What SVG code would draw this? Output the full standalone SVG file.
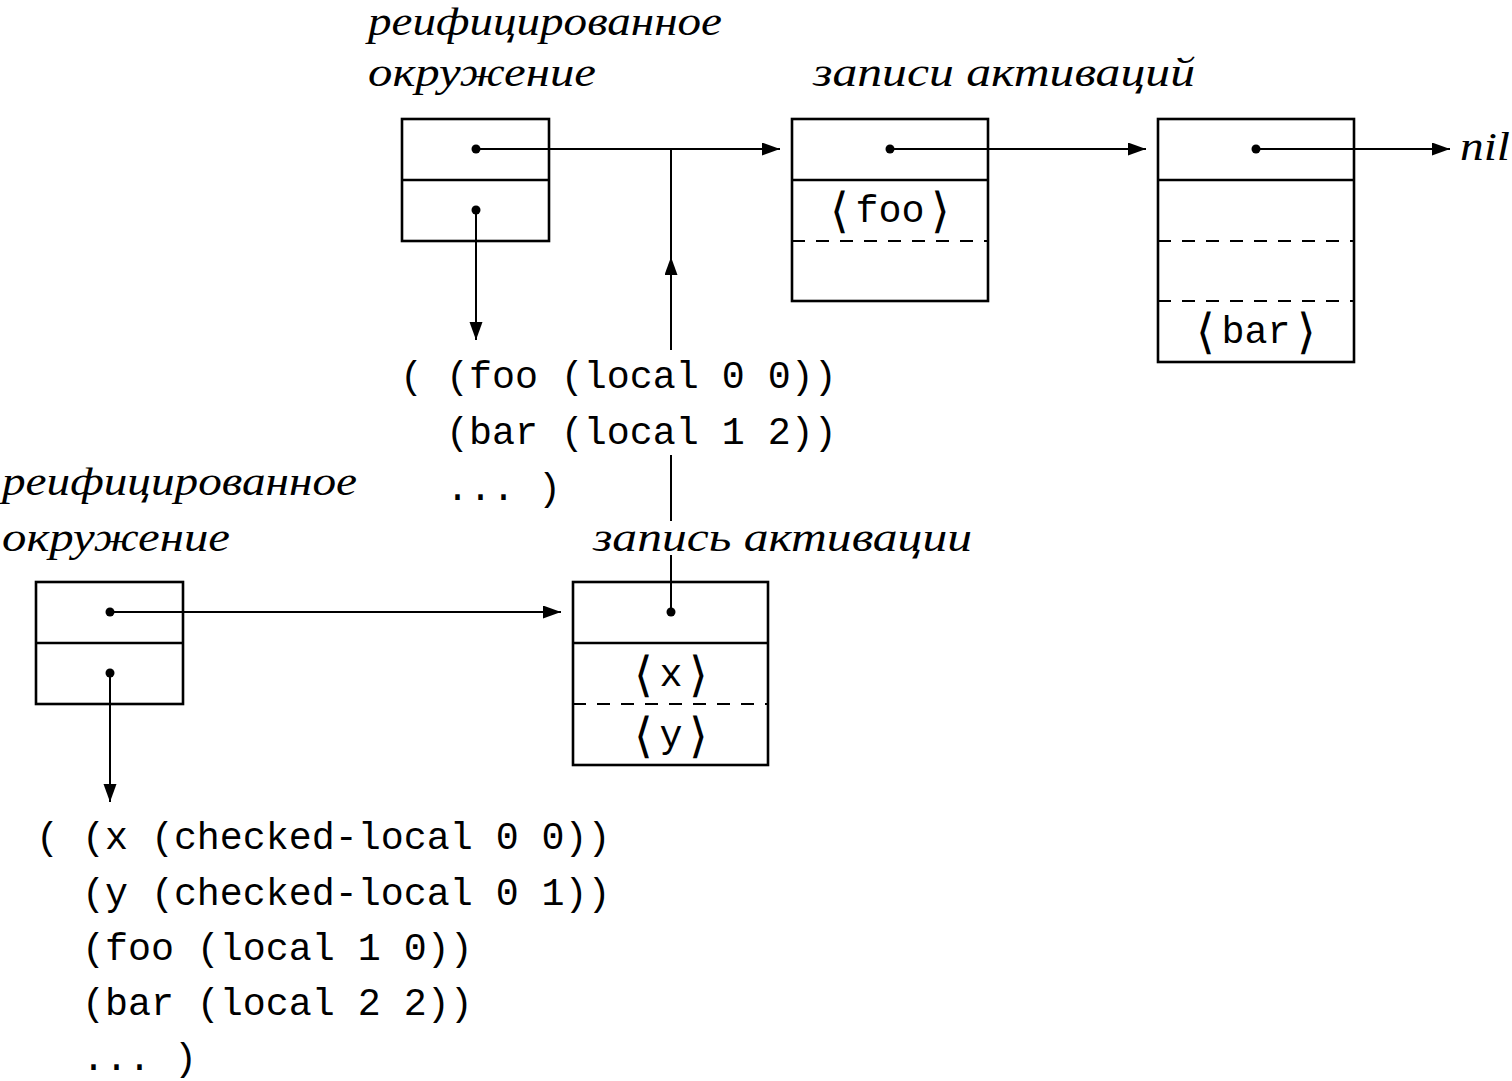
<svg xmlns="http://www.w3.org/2000/svg" width="1512" height="1081" viewBox="0 0 1512 1081">
<defs>
<marker id="ah" markerUnits="userSpaceOnUse" markerWidth="20" markerHeight="14" refX="18" refY="6.5" orient="auto">
<path d="M0,0 L18,6.5 L0,13 z" fill="#000"/>
</marker>
<style>
.box{fill:none;stroke:#000;stroke-width:2.6}
.div{stroke:#000;stroke-width:2.4}
.dash{stroke:#000;stroke-width:2;stroke-dasharray:13 11}
.ln{stroke:#000;stroke-width:2;fill:none}
.arr{stroke:#000;stroke-width:2;fill:none;marker-end:url(#ah)}
.dot{fill:#000}
.it{font-family:"Liberation Serif",serif;font-style:italic;font-size:39px;fill:#000}
.mono{font-family:"Liberation Mono",monospace;font-size:38.3px;fill:#000}
.br{font-family:"DejaVu Sans",sans-serif;font-weight:200;font-size:48px;fill:#000}
</style>
</defs>
<rect width="1512" height="1081" fill="#fff"/>

<g id="labels">
<text class="it" x="368" y="35" textLength="354" lengthAdjust="spacingAndGlyphs">реифицированное</text>
<text class="it" x="368" y="86" textLength="228" lengthAdjust="spacingAndGlyphs">окружение</text>
<text class="it" x="813" y="86" textLength="382" lengthAdjust="spacingAndGlyphs">записи  активаций</text>
<text class="it" x="2" y="495" textLength="355" lengthAdjust="spacingAndGlyphs">реифицированное</text>
<text class="it" x="2" y="551" textLength="228" lengthAdjust="spacingAndGlyphs">окружение</text>
<text class="it" x="593" y="551" textLength="379" lengthAdjust="spacingAndGlyphs">запись  активации</text>
<text class="it" x="1460" y="160" textLength="50" lengthAdjust="spacingAndGlyphs">nil</text>
</g>

<g id="env1">
<rect class="box" x="402" y="119" width="147" height="122"/>
<line class="div" x1="402" y1="180" x2="549" y2="180"/>
<circle class="dot" cx="476" cy="149" r="4.5"/>
<circle class="dot" cx="476" cy="210" r="4.5"/>
</g>

<g id="frame1">
<rect class="box" x="792" y="119" width="196" height="182"/>
<line class="div" x1="792" y1="180" x2="988" y2="180"/>
<line class="dash" x1="792" y1="241" x2="988" y2="241"/>
<circle class="dot" cx="890" cy="149" r="4.5"/>
<text class="br" x="849" y="227" text-anchor="end">⟨</text>
<text class="mono" x="890" y="222" text-anchor="middle">foo</text>
<text class="br" x="931" y="227">⟩</text>
</g>

<g id="frame2">
<rect class="box" x="1158" y="119" width="196" height="243"/>
<line class="div" x1="1158" y1="180" x2="1354" y2="180"/>
<line class="dash" x1="1158" y1="241" x2="1354" y2="241"/>
<line class="dash" x1="1158" y1="301" x2="1354" y2="301"/>
<circle class="dot" cx="1256" cy="149" r="4.5"/>
<text class="br" x="1215" y="348" text-anchor="end">⟨</text>
<text class="mono" x="1256" y="343" text-anchor="middle">bar</text>
<text class="br" x="1297" y="348">⟩</text>
</g>

<g id="list1">
<text class="mono" x="400" y="388" xml:space="preserve">( (foo (local 0 0))</text>
<text class="mono" x="400" y="444" xml:space="preserve">  (bar (local 1 2))</text>
<text class="mono" x="400" y="500" xml:space="preserve">  ... )</text>
</g>

<g id="env2">
<rect class="box" x="36" y="582" width="147" height="122"/>
<line class="div" x1="36" y1="643" x2="183" y2="643"/>
<circle class="dot" cx="110" cy="612" r="4.5"/>
<circle class="dot" cx="110" cy="673" r="4.5"/>
</g>

<g id="frame3">
<rect class="box" x="573" y="582" width="195" height="183"/>
<line class="div" x1="573" y1="643" x2="768" y2="643"/>
<line class="dash" x1="573" y1="704" x2="768" y2="704"/>
<circle class="dot" cx="671" cy="612" r="4.5"/>
<text class="br" x="653" y="691" text-anchor="end">⟨</text>
<text class="mono" x="671" y="686" text-anchor="middle">x</text>
<text class="br" x="689" y="691">⟩</text>
<text class="br" x="653" y="752" text-anchor="end">⟨</text>
<text class="mono" x="671" y="747" text-anchor="middle">y</text>
<text class="br" x="689" y="752">⟩</text>
</g>

<g id="list2">
<text class="mono" x="36" y="849" xml:space="preserve">( (x (checked-local 0 0))</text>
<text class="mono" x="36" y="905" xml:space="preserve">  (y (checked-local 0 1))</text>
<text class="mono" x="36" y="960" xml:space="preserve">  (foo (local 1 0))</text>
<text class="mono" x="36" y="1015" xml:space="preserve">  (bar (local 2 2))</text>
<text class="mono" x="36" y="1070" xml:space="preserve">  ... )</text>
</g>

<g id="connectors">
<line class="arr" x1="476" y1="149" x2="780" y2="149"/>
<line class="arr" x1="890" y1="149" x2="1146" y2="149"/>
<line class="arr" x1="1256" y1="149" x2="1450" y2="149"/>
<line class="arr" x1="476" y1="210" x2="476" y2="340"/>
<line class="ln" x1="671" y1="149" x2="671" y2="257"/>
<line class="arr" x1="671" y1="350" x2="671" y2="257"/>
<line class="ln" x1="671" y1="455" x2="671" y2="521"/>
<line class="ln" x1="671" y1="555" x2="671" y2="612"/>
<line class="arr" x1="110" y1="612" x2="561" y2="612"/>
<line class="arr" x1="110" y1="673" x2="110" y2="802"/>
</g>
</svg>
